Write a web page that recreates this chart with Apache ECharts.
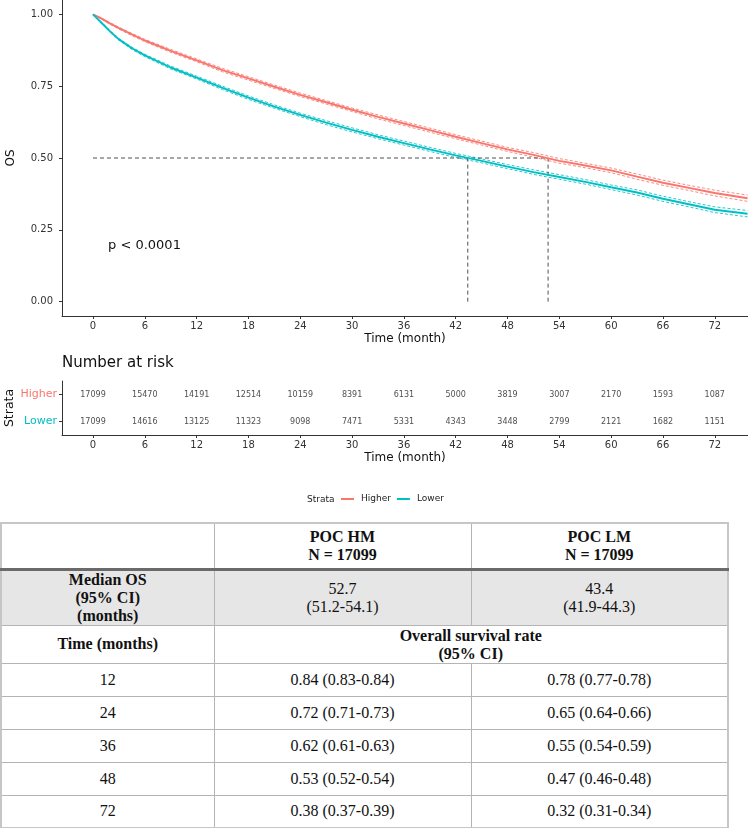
<!DOCTYPE html>
<html>
<head>
<meta charset="utf-8">
<script src="https://cdn.jsdelivr.net/npm/echarts@6/dist/echarts.min.js"></script>
<style>
  html, body { margin: 0; padding: 0; background: #fff; }
  #chart { position: absolute; left: 0; top: 0; width: 748px; height: 520px; }
  #tbl { position: absolute; left: 0; top: 522px; width: 727px; border-collapse: collapse;
         font-family: "Liberation Serif", "Times New Roman", serif; font-size: 16px; color: #111;
         table-layout: fixed; border: 2px solid #c6c6c6; }
  #tbl td { border: 1px solid #b4b4b4; text-align: center; vertical-align: middle; padding: 0; line-height: 18px; }
  #tbl tr.hdr td { font-weight: bold; border-bottom: 3px solid #6a6a6a; }
  #tbl tr.med td { background: #e6e6e6; }
  #tbl td.b { font-weight: bold; }
</style>
</head>
<body>
<div id="chart"></div>
<table id="tbl"></table>
<script>
// ---- Survival curves ----
var times        = [0, 1, 2, 3, 4.5, 6, 9, 12, 15, 18, 21, 24, 27, 30, 33, 36, 39, 42, 45, 48, 51, 54, 57, 60, 63, 66, 69, 72, 75.8];
var higherSurv   = [1.000,0.985,0.968,0.952,0.930,0.909,0.873,0.840,0.806,0.777,0.748,0.720,0.694,0.668,0.643,0.620,0.597,0.574,0.552,0.530,0.511,0.490,0.474,0.457,0.435,0.414,0.396,0.378,0.360];
var higherUpper  = [1.000,0.987,0.971,0.955,0.934,0.913,0.878,0.845,0.812,0.783,0.754,0.726,0.700,0.674,0.650,0.627,0.604,0.581,0.559,0.537,0.519,0.498,0.482,0.465,0.444,0.423,0.405,0.388,0.371];
var higherLower  = [1.000,0.983,0.965,0.949,0.926,0.905,0.868,0.835,0.800,0.771,0.742,0.714,0.688,0.662,0.636,0.613,0.590,0.567,0.545,0.523,0.503,0.482,0.466,0.449,0.426,0.405,0.387,0.368,0.349];
var lowerSurv    = [1.000,0.970,0.940,0.913,0.882,0.857,0.815,0.780,0.744,0.710,0.679,0.650,0.623,0.598,0.574,0.552,0.530,0.509,0.490,0.470,0.451,0.434,0.417,0.398,0.380,0.358,0.339,0.320,0.306];
var lowerUpper   = [1.000,0.972,0.943,0.916,0.886,0.861,0.820,0.785,0.750,0.716,0.685,0.656,0.630,0.605,0.581,0.559,0.537,0.516,0.497,0.477,0.459,0.442,0.425,0.406,0.389,0.367,0.348,0.330,0.317];
var lowerLower   = [1.000,0.968,0.937,0.910,0.878,0.853,0.810,0.775,0.738,0.704,0.673,0.644,0.616,0.591,0.567,0.545,0.523,0.502,0.483,0.463,0.443,0.426,0.409,0.390,0.371,0.349,0.330,0.310,0.295];
var medianHigher = 52.7;
var medianLower  = 43.4;
var medianLevel  = 0.5;

// ---- Axis ticks ----
var xTicks = [0, 6, 12, 18, 24, 30, 36, 42, 48, 54, 60, 66, 72];
var yTicks = [0, 0.25, 0.5, 0.75, 1];

// ---- Number at risk ----
var strata     = ['Lower', 'Higher'];
var riskTimes  = [0, 6, 12, 18, 24, 30, 36, 42, 48, 54, 60, 66, 72];
var higherRisk = [17099, 15470, 14191, 12514, 10159, 8391, 6131, 5000, 3819, 3007, 2170, 1593, 1087];
var lowerRisk  = [17099, 14616, 13125, 11323, 9098, 7471, 5331, 4343, 3448, 2799, 2121, 1682, 1151];

// ---- Summary table ----
var groupNames   = ['POC HM', 'POC LM'];
var groupN       = [17099, 17099];
var medianOS     = ['52.7', '43.4'];
var medianCI     = ['(51.2-54.1)', '(41.9-44.3)'];
var tableTimes   = [12, 24, 36, 48, 72];
var hmRates      = ['0.84 (0.83-0.84)', '0.72 (0.71-0.73)', '0.62 (0.61-0.63)', '0.53 (0.52-0.54)', '0.38 (0.37-0.39)'];
var lmRates      = ['0.78 (0.77-0.78)', '0.65 (0.64-0.66)', '0.55 (0.54-0.59)', '0.47 (0.46-0.48)', '0.32 (0.31-0.34)'];

var RED = '#F8766D', TEAL = '#00BFC4', AX = '#333333', FONT = 'DejaVu Sans';
var G1 = { left: 62, top: 0, width: 686, height: 316 };
var G2 = { left: 62, top: 381, width: 686, height: 54 };

function pairs(xs, ys) { return xs.map(function (x, i) { return [x, ys[i]]; }); }

var XMIN = -3.59, XMAX = 75.85;

function lineSeries(name, data, color, width, dashed) {
  return {
    name: name, type: 'line', xAxisIndex: 0, yAxisIndex: 0,
    data: data, showSymbol: false, symbol: 'none', silent: true,
    lineStyle: { color: color, width: width, type: dashed ? dashed : 'solid', opacity: dashed ? 0.85 : 1 },
    itemStyle: { color: color }, z: dashed ? 2 : 3
  };
}

var series = [
  lineSeries('Higher CI upper', pairs(times, higherUpper), RED, 1, [3, 2]),
  lineSeries('Higher CI lower', pairs(times, higherLower), RED, 1, [3, 2]),
  lineSeries('Lower CI upper', pairs(times, lowerUpper), TEAL, 1, [3, 2]),
  lineSeries('Lower CI lower', pairs(times, lowerLower), TEAL, 1, [3, 2]),
  lineSeries('Higher', pairs(times, higherSurv), RED, 1.9),
  lineSeries('Lower', pairs(times, lowerSurv), TEAL, 1.9),
  lineSeries('medH', [[0, medianLevel], [Math.max(medianHigher, medianLower), medianLevel]], AX, 1, [4, 3]),
  lineSeries('medV1', [[medianLower, 0], [medianLower, medianLevel]], AX, 1, [4, 3]),
  lineSeries('medV2', [[medianHigher, 0], [medianHigher, medianLevel]], AX, 1, [4, 3])
];

var riskData = [];
riskTimes.forEach(function (t, i) {
  riskData.push([t, 'Higher', higherRisk[i]]);
  riskData.push([t, 'Lower', lowerRisk[i]]);
});
series.push({
  type: 'scatter', xAxisIndex: 1, yAxisIndex: 1, data: riskData, symbolSize: 1, silent: true,
  itemStyle: { color: 'rgba(0,0,0,0)' },
  label: { show: true, position: 'inside', formatter: function (p) { return String(p.value[2]); },
           fontSize: 8, fontFamily: FONT, color: '#222' }
});

function xAxisCfg(gi) {
  return {
    type: 'value', gridIndex: gi, min: XMIN, max: XMAX,
    name: 'Time (month)', nameLocation: 'middle', nameGap: 17, nameMoveOverlap: false,
    nameTextStyle: { fontSize: 12, fontFamily: FONT, color: '#111' },
    axisLine: { show: true, onZero: false, lineStyle: { color: AX, width: 1 } },
    axisTick: { show: true, length: 3, customValues: xTicks, lineStyle: { color: AX } },
    axisLabel: { customValues: xTicks, fontSize: 10, fontFamily: FONT, color: '#333', margin: 5 },
    splitLine: { show: false }
  };
}

var baseGraphic = [
  { id: 'pval', type: 'text', left: 108, top: 239, style: { text: 'p < 0.0001', fontSize: 13, fontFamily: FONT, fill: '#111' } },
  { id: 'strataLbl', type: 'text', left: 307, top: 495, style: { text: 'Strata', fontSize: 9, fontFamily: FONT, fill: '#222' } }
];

var chart = echarts.init(document.getElementById('chart'));
chart.setOption({
  animation: false,
  title: {
    text: 'Number at risk', left: 62, top: 356, padding: 0,
    textStyle: { fontSize: 15, fontWeight: 'normal', fontFamily: FONT, color: '#111' }
  },
  legend: {
    data: ['Higher', 'Lower'], left: 341, top: 494.5, padding: 0,
    icon: 'rect', itemWidth: 13, itemHeight: 2, itemGap: 6,
    textStyle: { fontSize: 9, fontFamily: FONT, color: '#222', padding: [0, 0, 0, 2] }
  },
  graphic: baseGraphic,
  grid: [
    { left: G1.left, top: G1.top, width: G1.width, height: G1.height, outerBoundsMode: 'none' },
    { left: G2.left, top: G2.top, width: G2.width, height: G2.height, outerBoundsMode: 'none' }
  ],
  xAxis: [xAxisCfg(0), xAxisCfg(1)],
  yAxis: [
    {
      type: 'value', gridIndex: 0, min: -0.05, max: 1.05,
      name: 'OS', nameLocation: 'middle', nameGap: 45, nameMoveOverlap: false,
      nameTextStyle: { fontSize: 12, fontFamily: FONT, color: '#111' },
      axisLine: { show: true, onZero: false, lineStyle: { color: AX, width: 1 } },
      axisTick: { show: true, length: 3, customValues: yTicks, lineStyle: { color: AX } },
      axisLabel: { customValues: yTicks, fontSize: 10, fontFamily: FONT, color: '#333', margin: 9,
                   formatter: function (v) { return Number(v).toFixed(2); } },
      splitLine: { show: false }
    },
    {
      type: 'category', gridIndex: 1, data: strata,
      name: 'Strata', nameLocation: 'middle', nameGap: 46, nameMoveOverlap: false,
      nameTextStyle: { fontSize: 12.5, fontFamily: FONT, color: '#111' },
      axisLine: { show: true, onZero: false, lineStyle: { color: AX, width: 1 } },
      axisTick: { show: true, length: 3, alignWithLabel: true, lineStyle: { color: AX } },
      axisLabel: { fontSize: 11, fontFamily: FONT, margin: 5,
                   color: function (v) { return v === 'Higher' ? RED : TEAL; } },
      splitLine: { show: false }
    }
  ],
  series: series
});

// Make sure the left axis lines of both panels are visible (drawn at the grid edge)
var edge = Math.round(chart.convertToPixel({ xAxisIndex: 0 }, XMIN)) + 0.5;
var edge2 = Math.round(chart.convertToPixel({ xAxisIndex: 1 }, XMIN)) + 0.5;
chart.setOption({
  graphic: baseGraphic.concat([
    { id: 'yl1', type: 'line', z: 10, silent: true, shape: { x1: edge, y1: G1.top, x2: edge, y2: G1.top + G1.height },
      style: { stroke: AX, lineWidth: 1 } },
    { id: 'yl2', type: 'line', z: 10, silent: true, shape: { x1: edge2, y1: G2.top, x2: edge2, y2: G2.top + G2.height },
      style: { stroke: AX, lineWidth: 1 } }
  ])
});

// ---- Build the summary table ----
var tbl = document.getElementById('tbl');
var html = '<colgroup><col style="width:213px"><col style="width:257px"><col style="width:257px"></colgroup>';
html += '<tr class="hdr" style="height:46px"><td></td>';
groupNames.forEach(function (g, i) { html += '<td>' + g + '<br>N = ' + groupN[i] + '</td>'; });
html += '</tr>';
html += '<tr class="med" style="height:56px"><td class="b">Median OS<br>(95% CI)<br>(months)</td>';
medianOS.forEach(function (m, i) { html += '<td>' + m + '<br>' + medianCI[i] + '</td>'; });
html += '</tr>';
html += '<tr style="height:38px"><td class="b">Time (months)</td><td class="b" colspan="2" style="vertical-align:top;padding-top:1px">Overall survival rate<br>(95% CI)</td></tr>';
tableTimes.forEach(function (t, i) {
  html += '<tr style="height:33px"><td>' + t + '</td><td>' + hmRates[i] + '</td><td>' + lmRates[i] + '</td></tr>';
});
tbl.innerHTML = html;
</script>
</body>
</html>
